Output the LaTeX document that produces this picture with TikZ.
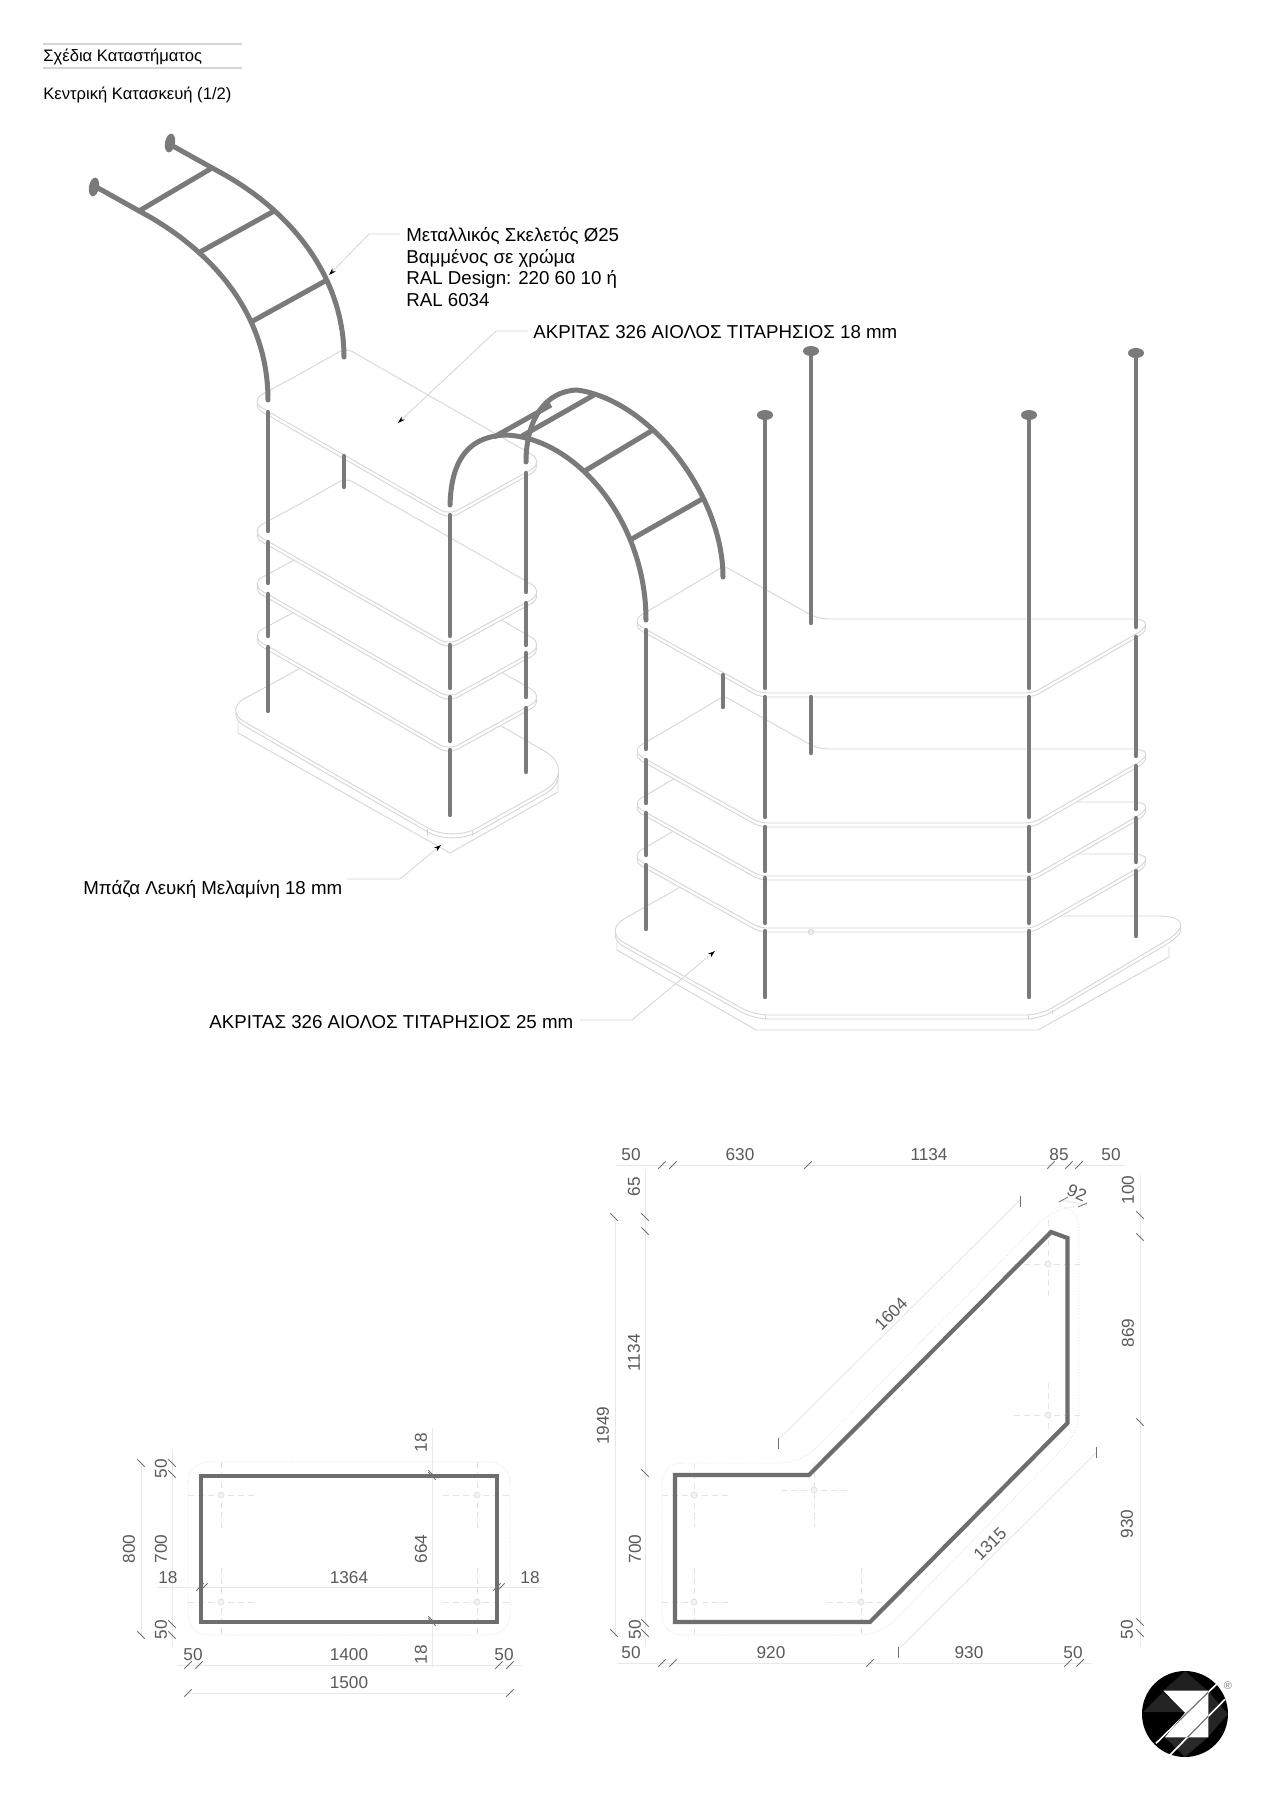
\documentclass[tikz,border=0pt]{standalone}
\usepackage{fontspec}
\setmainfont{Liberation Sans}
\usetikzlibrary{arrows.meta,calc}
\definecolor{rodc}{HTML}{7A7A7A}
\definecolor{planc}{HTML}{6E6E6E}
\definecolor{edgec}{HTML}{D6D6D6}
\definecolor{dimc}{HTML}{E8E8E8}
\definecolor{tickc}{HTML}{707070}
\definecolor{dimtxt}{HTML}{5A5A5A}
\definecolor{guidec}{HTML}{E4E4E4}
\tikzset{
  rod/.style={draw=rodc,line width=2.2pt,line cap=round,line join=round},
  archrod/.style={draw=rodc,line width=2.5pt,line cap=round,line join=round},
  rung/.style={draw=rodc,line width=2.5pt},
  edgeln/.style={draw=edgec,line width=0.45pt,fill=white,line join=round},
  leader/.style={draw=edgec,line width=0.4pt,-{Stealth[length=3.6pt,width=2.3pt,black]}},
  label/.style={anchor=west,inner sep=0pt,text=black,font=\fontsize{9.35}{10.7}\selectfont,align=left},
  titletxt/.style={anchor=west,inner sep=0pt,text=black,font=\fontsize{8.3}{10}\selectfont},
  dimt/.style={inner sep=0pt,text=dimtxt,yshift=-0.4pt,font=\fontsize{8.6}{10}\selectfont},
  dimln/.style={draw=dimc,line width=0.45pt},
  tickln/.style={draw=tickc,line width=0.4pt},
  plan/.style={draw=planc,line width=2.1pt,line join=miter},
  dotout/.style={draw=guidec,line width=0.45pt,densely dotted,rounded corners=10pt},
  guide/.style={draw=guidec,line width=0.4pt,densely dashed},
  pin/.style={draw=guidec,line width=0.4pt,fill=guidec!50},
  disk/.style={fill=rodc,draw=none},
}
\newcommand{\slt}[2]{\draw[tickln] (#1-3.7,#2+3.7) -- (#1+3.7,#2-3.7);}
\newcommand{\bst}[2]{\draw[tickln] (#1-3.7,#2-3.7) -- (#1+3.7,#2+3.7);}
\newcommand{\vtk}[2]{\draw[tickln] (#1,#2-5.5) -- (#1,#2+5.5);}
\newcommand{\pinx}[6]{% x y hx1 hx2 vy1 vy2
  \draw[guide] (#3,#2) -- (#4,#2);
  \draw[guide] (#1,#5) -- (#1,#6);
  \draw[pin] (#1,#2) circle (3);}
% rounded corner: previous point, corner, next point, tangent length
\newcommand{\crn}[4]{-- ($#2!#4!#1$) .. controls ($#2!0.45*#4!#1$) and ($#2!0.45*#4!#3$) .. ($#2!#4!#3$)}
\newcommand{\lsurf}{(298,375)
  \crn{(346,348)}{(250,401)}{(449,515)}{7pt}
  \crn{(250,401)}{(449,515)}{(545,462)}{5pt}
  \crn{(449,515)}{(545,462)}{(346,348)}{8pt}
  \crn{(545,462)}{(346,348)}{(250,401)}{3.5pt} -- cycle}
\newcommand{\rsurf}{(677,594)
  \crn{(724,566)}{(631,621)}{(760,693)}{6pt}
  \crn{(631,621)}{(760,693)}{(1033,693)}{3.5pt}
  \crn{(760,693)}{(1033,693)}{(1162,619)}{3.5pt}
  \crn{(1033,693)}{(1162,619)}{(818,619)}{15pt}
  \crn{(1162,619)}{(818,619)}{(724,566)}{5pt}
  \crn{(818,619)}{(724,566)}{(631,621)}{2pt} -- cycle}
\newcommand{\lbase}{(288,675)
  \crn{(351,639)}{(224,710)}{(452,842)}{11.5pt}
  \crn{(224,710)}{(452,842)}{(579,771)}{14pt}
  \crn{(452,842)}{(579,771)}{(351,639)}{20pt}
  -- (351,639) -- cycle}
\newcommand{\rbase}{(670,893)
  \crn{(735,855)}{(603,931)}{(754,1015)}{12pt}
  \crn{(603,931)}{(754,1015)}{(1040,1015)}{7pt}
  \crn{(754,1015)}{(1040,1015)}{(1208,916)}{7pt}
  \crn{(1040,1015)}{(1208,916)}{(840,916)}{25pt}
  -- (840,916) -- (735,855) -- cycle}
\newcommand{\lshelf}[1]{\begin{scope}[shift={(0,#1)}]
  \path[edgeln,shift={(0,4)}] \lsurf;
  \path[edgeln] \lsurf;
\end{scope}}
\newcommand{\rshelf}[1]{\begin{scope}[shift={(0,#1)}]
  \path[edgeln,shift={(0,4)}] \rsurf;
  \path[edgeln] \rsurf;
\end{scope}}
\begin{document}
\begin{tikzpicture}[x=0.5pt,y=-0.5pt]
\useasboundingbox (0,0) rectangle (1272,1800);
\fill[white] (0,0) rectangle (1272,1800);

% title block
\draw[draw=edgec,line width=1pt] (43,44) -- (242,44);
\draw[draw=edgec,line width=1pt] (43,68) -- (242,68);
\node[titletxt] (t1) at (43,57) {Σχέδια Καταστήματος};
\node[titletxt] (t2) at (43,95) {Κεντρική Κατασκευή (1/2)};

% left unit: base and shelves
\draw[edgeln] (238,722) -- (238,733) -- (450,853) -- (558,792) -- (558,772);
\path[edgeln,shift={(0,4)}] \lbase;
\path[edgeln] \lbase;
\draw[edgec,line width=0.4pt] (427,829) -- (427,836) (472,830) -- (472,836);
\lshelf{235}\lshelf{183}\lshelf{130}\lshelf{0}

% right unit: base and shelves
\draw[edgeln] (617,940) -- (617,950) -- (756,1030) -- (1038,1030) -- (1169,957) -- (1169,947);
\path[edgeln,shift={(0,4)}] \rbase;
\path[edgeln] \rbase;
\draw[edgec,line width=0.4pt] (765,1015) -- (765,1019) (1028,1015) -- (1028,1019) (1052,1010) -- (1052,1014);
\rshelf{235}\rshelf{183}\rshelf{130}\rshelf{0}
\draw[edgec,line width=0.5pt] (811,932) circle (2.5);

% left unit rods
\foreach \a/\b in {412/531,542/583,594/636,647/711} \draw[rod] (268,\a) -- (268,\b);
\foreach \a/\b in {515/636,645/688,697/741,750/815} \draw[rod] (450,\a) -- (450,\b);
\foreach \a/\b in {473/592,603/645,653/697,708/772} \draw[rod] (526,\a) -- (526,\b);
\draw[rod] (344,456) -- (344,487);

% first arch
\draw[archrod] (98,188) -- (150,217) .. controls (220,258) and (268,320) .. (268,400);
\draw[archrod] (171,145) -- (225,175) .. controls (295,215) and (344,280) .. (344,357);
\draw[rung] (139,211) -- (212,168);
\draw[rung] (200,252) -- (276,210);
\draw[rung] (251,322) -- (327,280);
\fill[disk,rotate around={-10:(94,187)}] (94,187) ellipse (5 and 9.5);
\fill[disk,rotate around={-10:(170,143)}] (170,143) ellipse (5 and 9.5);

% second arch
\draw[archrod] (450,505) .. controls (451,472) and (460,437) .. (505,435) .. controls (575,437) and (646,520) .. (646,620);
\draw[archrod] (526,462) .. controls (526,420) and (545,391) .. (577,390) .. controls (650,400) and (723,495) .. (723,577);
\draw[rung] (494,437) -- (551,405);
\draw[rung] (522,436) -- (594,395);
\draw[rung] (583,472) -- (653,430);
\draw[rung] (630,540) -- (704,498);

% right unit rods
\foreach \a/\b in {630/749,760/803,813/855,865/929} \draw[rod] (646,\a) -- (646,\b);
\draw[rod] (723,675) -- (723,707);
\foreach \x in {765,1029}{
  \foreach \a/\b in {415/688,697/817,827/871,878/923,931/997} \draw[rod] (\x,\a) -- (\x,\b);
  \fill[disk] (\x,415) ellipse (8 and 5);
}
\draw[rod] (811,351) -- (811,623);
\draw[rod] (811,697) -- (811,753);
\fill[disk] (811,351) ellipse (8 and 5);
\foreach \a/\b in {353/627,637/756,766/809,818/862,871/936} \draw[rod] (1136,\a) -- (1136,\b);
\fill[disk] (1136,353) ellipse (8 and 5);

% callouts
\node[label] (lab1) at (406,267) {Μεταλλικός Σκελετός Ø25\\Βαμμένος σε χρώμα\\RAL Design: 220 60 10 ή\\RAL 6034};
\coordinate (b1) at (369,234); \coordinate (e1) at (329,275);
\draw[leader] (400,234) -- (b1) -- (e1);
\node[label] (lab2) at (533,332) {ΑΚΡΙΤΑΣ 326 ΑΙΟΛΟΣ ΤΙΤΑΡΗΣΙΟΣ 18 mm};
\coordinate (b2) at (496,331); \coordinate (e2) at (398,423);
\draw[leader] (528,331) -- (b2) -- (e2);
\node[label] (lab3) at (83,889) {Μπάζα Λευκή Μελαμίνη 18 mm};
\coordinate (b3) at (400,879); \coordinate (e3) at (441,845);
\draw[leader] (347,879) -- (b3) -- (e3);
\node[label] (lab4) at (209,1022) {ΑΚΡΙΤΑΣ 326 ΑΙΟΛΟΣ ΤΙΤΑΡΗΣΙΟΣ 25 mm};
\coordinate (b4) at (632,1020); \coordinate (e4) at (715,951);
\draw[leader] (580,1020) -- (b4) -- (e4);

% ---- left plan ----
\draw[dotout] (188,1462) rectangle (510,1635);
\pinx{221}{1495}{188}{254}{1462}{1528}
\pinx{477}{1495}{443}{510}{1462}{1528}
\pinx{221}{1602}{188}{254}{1568}{1635}
\pinx{477}{1602}{443}{510}{1568}{1635}
\draw[dimln] (141,1463) -- (141,1635);
\draw[dimln] (172,1450) -- (172,1647);
\draw[dimln] (157,1587) -- (543,1587);
\draw[dimln] (432,1428) -- (432,1667);
\draw[dimln] (177,1665) -- (522,1665);
\draw[dimln] (188,1693) -- (510,1693);
\draw[plan] (201,1476) rectangle (497,1622);
\bst{141}{1463}\bst{141}{1635}
\bst{172}{1463}\bst{172}{1474}\bst{172}{1624}\bst{172}{1635}
\slt{200}{1587}\slt{204}{1587}\slt{497}{1587}\slt{501}{1587}
\bst{432}{1476}\bst{432}{1622}
\bst{432}{1474}\bst{432}{1620}
\slt{188}{1665}\slt{199}{1665}\slt{499}{1665}\slt{510}{1665}
\slt{188}{1693}\slt{510}{1693}
\node[dimt,rotate=90] (p1) at (129,1548) {800};
\node[dimt,rotate=90] (p2) at (161,1468) {50};
\node[dimt,rotate=90] (p3) at (161,1548) {700};
\node[dimt,rotate=90] (p4) at (161,1629) {50};
\node[dimt] (p5) at (168,1577) {18};
\node[dimt] (p6) at (349,1577) {1364};
\node[dimt] (p7) at (530,1577) {18};
\node[dimt,rotate=90] (p8) at (421,1442) {18};
\node[dimt,rotate=90] (p9) at (421,1548) {664};
\node[dimt,rotate=90] (p10) at (421,1654) {18};
\node[dimt] (p11) at (193,1654) {50};
\node[dimt] (p12) at (349,1654) {1400};
\node[dimt] (p13) at (504,1654) {50};
\node[dimt] (p14) at (349,1682) {1500};

% ---- right plan ----
\draw[dotout] (662,1463) -- (801,1463) -- (1055,1207) -- (1079,1207) -- (1079,1432) -- (880,1635) -- (662,1635) -- cycle;
\pinx{694}{1495}{662}{728}{1463}{1527}
\pinx{814}{1490}{781}{847}{1463}{1527}
\pinx{694}{1602}{662}{728}{1568}{1635}
\pinx{861}{1602}{827}{885}{1568}{1635}
\pinx{1048}{1264}{1014}{1080}{1220}{1297}
\pinx{1048}{1415}{1014}{1080}{1383}{1432}
\draw[dimln] (617,1165) -- (1125,1165);
\draw[dimln] (645,1170) -- (645,1645);
\draw[dimln] (615,1220) -- (615,1637);
\draw[dimln] (617,1663) -- (1092,1663);
\draw[dimln] (1140,1175) -- (1140,1647);
\draw[dimln] (900,1648) -- (1096,1453);
\draw[dimln] (778,1440) -- (1020,1200);
\draw[dimln] (1060,1200) -- (1087,1205);
\draw[plan,line join=miter] (675,1475) -- (675,1622) -- (870,1622) -- (1067.5,1423) -- (1067.5,1238) -- (1051,1232) -- (809,1475) -- cycle;
\foreach \x in {662,673,808,1051,1069,1079} {\slt{\x}{1165}}
\foreach \y in {1217,1231,1473,1623,1633} {\bst{645}{\y}}
\bst{614}{1217}\bst{614}{1633}
\foreach \x in {662,673,870,1068,1080} {\slt{\x}{1663}}
\foreach \y in {1215,1237,1422,1622,1633} {\bst{1140}{\y}}
\vtk{898}{1652}\vtk{1096}{1452}\vtk{778}{1443}\vtk{1020}{1201}
\draw[tickln] (1059,1202) -- (1068,1197);
\draw[tickln] (1078,1207) -- (1087,1203);
\node[dimt] (q1) at (631,1154) {50};
\node[dimt] (q2) at (740,1154) {630};
\node[dimt] (q3) at (929,1154) {1134};
\node[dimt] (q4) at (1059,1154) {85};
\node[dimt] (q5) at (1111,1154) {50};
\node[dimt,rotate=90] (q6) at (634,1186) {65};
\node[dimt,rotate=90] (q7) at (634,1352) {1134};
\node[dimt,rotate=90] (q8) at (635,1548) {700};
\node[dimt,rotate=90] (q9) at (635,1629) {50};
\node[dimt,rotate=90] (q10) at (603,1425) {1949};
\node[dimt] (q11) at (631,1652) {50};
\node[dimt] (q12) at (771,1652) {920};
\node[dimt] (q13) at (969,1652) {930};
\node[dimt] (q14) at (1073,1652) {50};
\node[dimt,rotate=45] (q15) at (990,1543) {1315};
\node[dimt,rotate=45] (q16) at (891,1313) {1604};
\node[dimt,rotate=-23] (q17) at (1077,1192) {92};
\node[dimt,rotate=90] (q18) at (1128,1189) {100};
\node[dimt,rotate=90] (q19) at (1128,1332) {869};
\node[dimt,rotate=90] (q20) at (1127,1523) {930};
\node[dimt,rotate=90] (q21) at (1127,1629) {50};

% logo
\fill[black] (1185,1714) circle (43);
\fill[black!86] (1143,1712) -- (1163,1692) -- (1185,1712) -- cycle;
\fill[black!88] (1185,1671) -- (1163,1691) -- (1208,1691) -- cycle;
\fill[black!86] (1228,1714) -- (1208,1691) -- (1208,1737) -- cycle;
\fill[black!84] (1185,1757) -- (1165,1737) -- (1208,1737) -- cycle;
\fill[white] (1163.3,1690.7) -- (1208.3,1690.7) -- (1208.3,1737.3) -- (1165,1737.3) -- (1185,1712.7) -- cycle;
\draw[white,line width=0.8pt] (1156,1743.3) -- (1216.7,1684);
\draw[white,line width=0.8pt] (1170,1755) -- (1225,1699.3);
\begin{scope}
\clip (1163.3,1690.7) -- (1208.3,1690.7) -- (1208.3,1737.3) -- (1165,1737.3) -- (1185,1712.7) -- cycle;
\draw[gray!90!black,line width=0.6pt] (1156,1743.3) -- (1216.7,1684);
\draw[gray!90!black,line width=0.6pt] (1170,1755) -- (1225,1699.3);
\end{scope}
\node[inner sep=0pt,text=gray,font=\fontsize{5.5}{6}\selectfont] (reg) at (1228,1686) {®};
\end{tikzpicture}
\end{document}
